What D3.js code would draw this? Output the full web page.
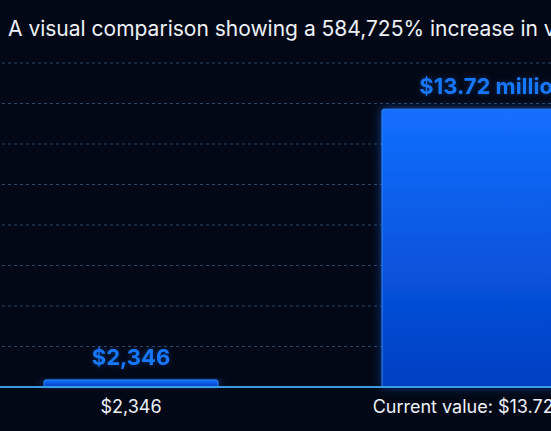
<!DOCTYPE html>
<html>
<head>
<meta charset="utf-8">
<script src="https://cdn.jsdelivr.net/npm/d3@7"></script>
<style>
  html, body { margin: 0; padding: 0; background: #030816; overflow: hidden; }
  #chart { width: 551px; height: 431px; }
  text { font-family: Inter, "Noto Sans", sans-serif; }
</style>
</head>
<body>
<div id="chart"></div>
<script>
// data
const categories = ["$2,346", "Current value: $13.72 million"];
const values = [2346, 13720000];
const valueLabels = ["$2,346", "$13.72 million"];
const title = "A visual comparison showing a 584,725% increase in value";

function drawComparison() {
    const width = 551, height = 431;
    const baseY = 387, topY = 63;

    const svg = d3.select("#chart")
        .append("svg")
        .attr("width", width)
        .attr("height", height);

    const defs = svg.append("defs");

    const grad = defs.append("linearGradient")
        .attr("id", "barGrad")
        .attr("x1", 0).attr("y1", 0)
        .attr("x2", 0).attr("y2", 1);
    grad.append("stop").attr("offset", "0%").attr("stop-color", "#136fff");
    grad.append("stop").attr("offset", "100%").attr("stop-color", "#003fc2");

    const glow = defs.append("filter")
        .attr("id", "glow")
        .attr("x", "-20%").attr("y", "-20%")
        .attr("width", "140%").attr("height", "140%");
    glow.append("feGaussianBlur").attr("in", "SourceGraphic").attr("stdDeviation", 5).attr("result", "blur");
    glow.append("feComponentTransfer").attr("in", "blur").attr("result", "soft")
        .append("feFuncA").attr("type", "linear").attr("slope", 0.6);
    const merge = glow.append("feMerge");
    merge.append("feMergeNode").attr("in", "soft");
    merge.append("feMergeNode").attr("in", "SourceGraphic");

    const textGlow = defs.append("filter").attr("id", "textGlow")
        .attr("x", "-10%").attr("y", "-30%")
        .attr("width", "120%").attr("height", "160%");
    textGlow.append("feGaussianBlur").attr("in", "SourceGraphic").attr("stdDeviation", 2.5).attr("result", "b");
    textGlow.append("feComponentTransfer").attr("in", "b").attr("result", "bs")
        .append("feFuncA").attr("type", "linear").attr("slope", 0.35);
    const m2 = textGlow.append("feMerge");
    m2.append("feMergeNode").attr("in", "bs");
    m2.append("feMergeNode").attr("in", "SourceGraphic");

    const x = d3.scaleBand()
        .domain(categories)
        .range([20, 604])
        .paddingInner(0.3867)
        .paddingOuter(0);

    // small bar is drawn narrower than its band
    const widthFactor = [0.784, 1];
    const minBarHeight = 7;

    const y = d3.scaleLinear()
        .domain([0, 16000000])
        .range([baseY, topY]);

    // dashed grid
    svg.append("g")
        .selectAll("line")
        .data(y.ticks(8).filter(d => d > 0))
        .enter()
        .append("line")
        .attr("x1", 2)
        .attr("x2", width)
        .attr("y1", d => y(d))
        .attr("y2", d => y(d))
        .attr("stroke", "#2b4968")
        .attr("stroke-width", 1)
        .attr("stroke-dasharray", "3,3");

    svg.append("g")
        .selectAll("rect")
        .data(values)
        .enter()
        .append("rect")
        .attr("x", (d, i) => x(categories[i]) + x.bandwidth() * (1 - widthFactor[i]) / 2)
        .attr("width", (d, i) => x.bandwidth() * widthFactor[i])
        .attr("y", d => Math.min(y(d), baseY - minBarHeight))
        .attr("height", d => baseY - Math.min(y(d), baseY - minBarHeight))
        .attr("rx", 2)
        .attr("fill", "url(#barGrad)")
        .attr("stroke", "#2a88ff")
        .attr("stroke-width", 1)
        .attr("filter", "url(#glow)");

    // baseline
    svg.append("line")
        .attr("x1", 0)
        .attr("x2", width)
        .attr("y1", baseY)
        .attr("y2", baseY)
        .attr("stroke", "#3a9be0")
        .attr("stroke-width", 2);

    // value labels above bars
    svg.append("g")
        .selectAll("text")
        .data(values)
        .enter()
        .append("text")
        .attr("x", (d, i) => x(categories[i]) + x.bandwidth() / 2)
        .attr("y", d => Math.min(y(d), baseY - minBarHeight) - 15)
        .attr("text-anchor", "middle")
        .attr("fill", "#1877ff")
        .attr("filter", "url(#textGlow)")
        .style("font-size", "22px")
        .style("font-weight", "700")
        .text((d, i) => valueLabels[i]);

    // category labels
    svg.append("g")
        .selectAll("text")
        .data(categories)
        .enter()
        .append("text")
        .attr("x", d => x(d) + x.bandwidth() / 2)
        .attr("y", 413)
        .attr("text-anchor", "middle")
        .attr("fill", "#eef2f8")
        .style("font-size", "18px")
        .text(d => d);

    svg.append("text")
        .attr("x", 8)
        .attr("y", 36)
        .attr("fill", "#eef2f8")
        .style("font-size", "21px")
        .text(title);
}

drawComparison();
</script>
</body>
</html>
